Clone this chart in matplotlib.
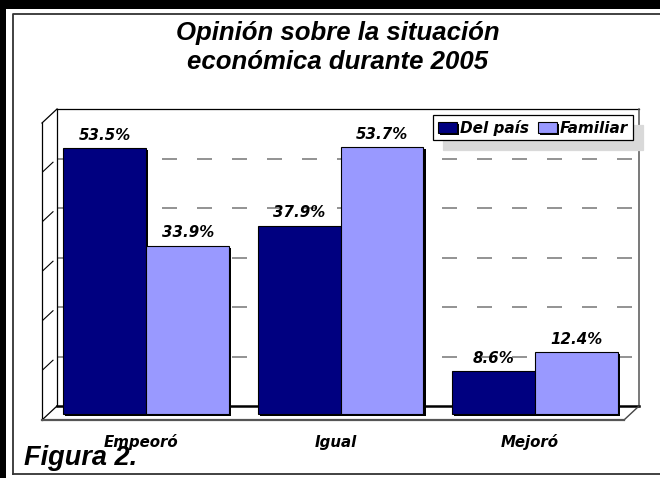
import numpy as np
import matplotlib
matplotlib.use('Agg')
import matplotlib.pyplot as plt
import matplotlib.patheffects as pe

# Chart data.
categories = ['Empeoró', 'Igual', 'Mejoró']
series_names = ['Del país', 'Familiar']
del_pais = [53.5, 37.9, 8.6]
familiar = [33.9, 53.7, 12.4]
grid_levels = [10, 20, 30, 40, 50]

W, H = 660, 478
colors = ['#000080', '#9999FF']
small_font = dict(family='DejaVu Sans', weight='bold', style='italic', size=10.8)
big_font = dict(family='Liberation Sans', weight='bold', style='italic')


def rect(x0, y0, x1, y1):
    # Pixel box (top-left origin) to figure fraction.
    return [x0 / W, 1 - y1 / H, (x1 - x0) / W, (y1 - y0) / H]


fig = plt.figure(figsize=(W / 100, H / 100), dpi=100)

# Overlay for frame and 3D walls (pixel coords, y down).
deco = fig.add_axes([0, 0, 1, 1], zorder=1)
deco.set_xlim(0, W)
deco.set_ylim(H, 0)
deco.axis('off')
deco.patch.set_alpha(0)

# Outer frame.
deco.add_patch(plt.Rectangle((0, 0), W, 9, color='black', lw=0))
deco.add_patch(plt.Rectangle((0, 0), 6, H, color='black', lw=0))
deco.plot([13, 13, W + 5], [H - 4, 13.5, 13.5], color='#333333', lw=1.3)
deco.plot([13, W + 5], [H - 4, H - 4], color='#333333', lw=1.3)

# Back wall with gridlines.
bx0, by0, bx1, by1 = 57, 109, 639, 406
wall = fig.add_axes(rect(bx0, by0, bx1, by1), zorder=0)
wall.set_xlim(0, 1)
wall.set_ylim(0, 60)
wall.set_yticks(grid_levels)
wall.set_xticks([])
wall.tick_params(left=False, labelleft=False)
wall.yaxis.grid(True, color='#808080', lw=1.2, ls=(0, (9, 12)))
for s in wall.spines.values():
    s.set_visible(False)
wall.patch.set_alpha(0)

# Wall edges and floor.
dx, dy = 15, 14
edge = dict(color='black', lw=0.9)
deco.plot([bx0, bx1], [by0, by0], **edge)
deco.plot([bx0, bx0], [by0, by1], **edge)
deco.plot([bx1, bx1], [by0, by1], color='#555555', lw=1.1)
deco.plot([bx0 - dx, bx0], [by0 + dy, by0], **edge)
deco.plot([bx0 - dx, bx0 - dx], [by0 + dy, by1 + dy], **edge)
deco.plot([bx0, bx1], [by1, by1], color='black', lw=1.8)
deco.plot([bx0 - dx, bx0], [by1 + dy, by1], **edge)
deco.plot([bx1 - dx, bx1], [by1 + dy, by1], color='#444444', lw=1)
deco.plot([bx0 - dx, bx1 - dx], [by1 + dy, by1 + dy], color='#555555', lw=1.6)

# Ticks on the side wall at the gridline levels.
for v in grid_levels:
    yb = H - wall.transData.transform((0, v))[1]
    x0, x1 = bx0 - dx + 1, bx0 - 4
    deco.plot([x0, x1], [yb + dy * (bx0 - x0) / dx, yb + dy * (bx0 - x1) / dx],
              color='black', lw=0.8)

# Bars.
px_per_unit = 4.97
base = 414
ax = fig.add_axes(rect(49, base - 60 * px_per_unit, 632, base), zorder=2)
ax.set_xlim(-0.5, 2.5)
ax.set_ylim(0, 60)
ax.axis('off')
ax.patch.set_alpha(0)

x = np.arange(len(categories))
w = 0.427
shadow = [pe.SimplePatchShadow(offset=(1.5, -1.5), shadow_rgbFace='black', alpha=1),
          pe.Normal()]
handles = []
for i, (vals, name) in enumerate(zip([del_pais, familiar], series_names)):
    pos = x + (i - 0.5) * w
    bars = ax.bar(pos, vals, w, color=colors[i], edgecolor='black', lw=0.8,
                  label=name, path_effects=shadow, clip_on=False)
    handles.append(bars)
    for p, v in zip(pos, vals):
        ax.annotate(f'{v}%', (p, v), xytext=(0, 8.5), textcoords='offset pixels',
                    ha='center', va='baseline', **small_font)

for i, c in enumerate(categories):
    ax.annotate(c, (x[i], 0), xytext=(-5, -33), textcoords='offset pixels',
                ha='center', va='baseline', **small_font)

leg = fig.legend(handles=handles, loc='upper right', ncol=2,
                 bbox_to_anchor=(633 / W, 1 - 115 / H), borderaxespad=0,
                 prop=dict(family='DejaVu Sans', weight='bold', style='italic', size=11),
                 frameon=True, fancybox=False, edgecolor='black',
                 shadow={'color': '#d9d9d9', 'alpha': 1, 'ox': 7, 'oy': -7},
                 handlelength=1.25, handleheight=0.75, handletextpad=0.2,
                 columnspacing=0.6, borderpad=0.3)
leg.get_frame().set_linewidth(0.9)
leg.set_zorder(5)

# Title and figure caption.
fig.text(338 / W, 1 - 21 / H, 'Opinión sobre la situación\neconómica durante 2005',
         ha='center', va='top', size=18.5, linespacing=1.25, **big_font)
fig.text(24 / W, 1 - 465 / H, 'Figura 2.', ha='left', va='baseline',
         size=19.5, **big_font)

fig.savefig('out.png', dpi=100)
